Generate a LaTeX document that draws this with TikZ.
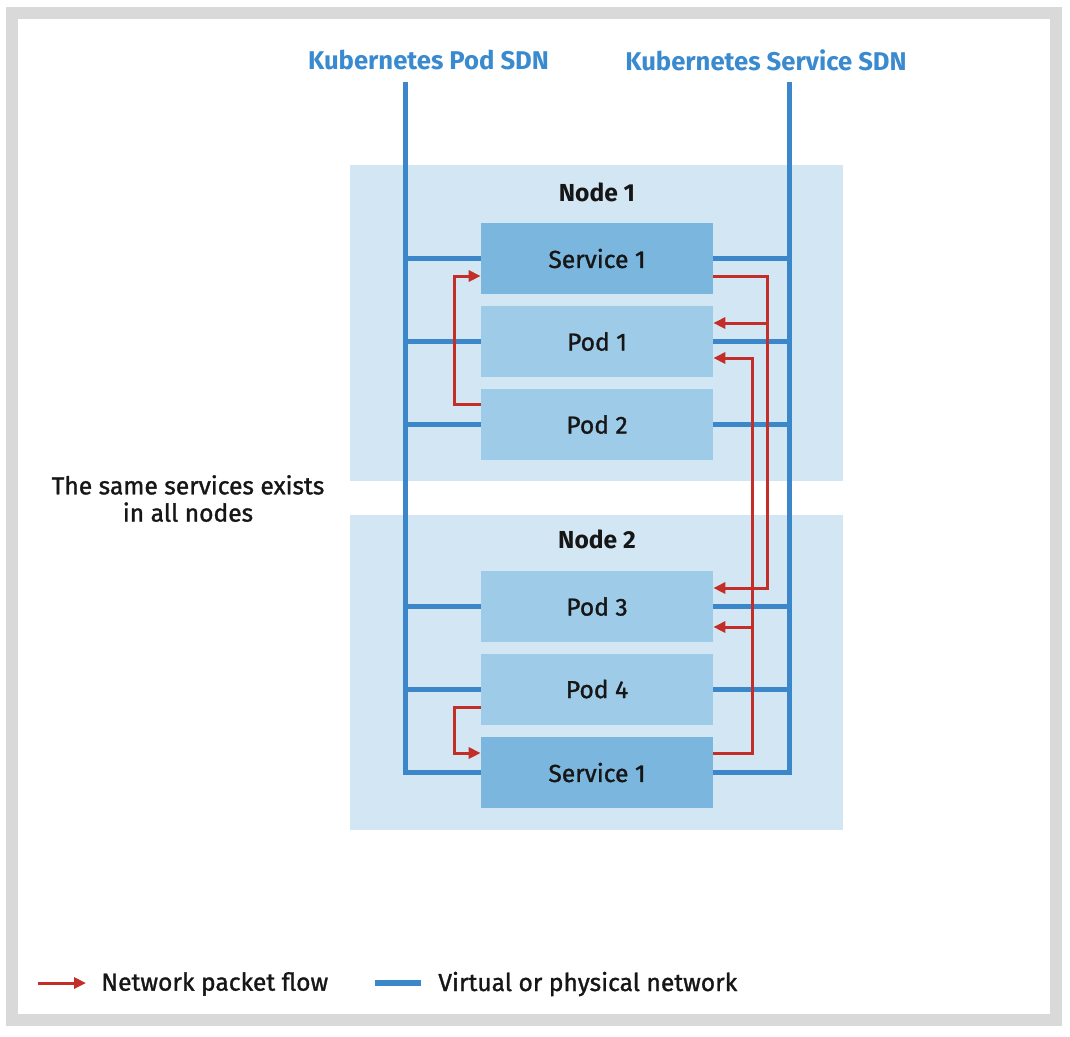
\documentclass[tikz,border=0pt]{standalone}
\usepackage{fontspec}
\setmainfont{Fira Sans}
\newfontfamily\medio[FakeBold=1.2]{Fira Sans}
\usetikzlibrary{arrows.meta}
\definecolor{sfondo}{HTML}{D3E6F3}
\definecolor{podblu}{HTML}{9DCBE8}
\definecolor{svcblu}{HTML}{7AB6DE}
\definecolor{reteblu}{HTML}{3B87C9}
\definecolor{titblu}{HTML}{3A8AD0}
\definecolor{rosso}{HTML}{C32E29}
\definecolor{cornice}{HTML}{D9D9D9}
\definecolor{testo}{HTML}{161616}
\tikzset{
  testo/.style={font=\fontsize{14}{17}\medio, text=testo},
  titolo/.style={font=\fontsize{14.6}{17}\selectfont\bfseries, text=titblu},
  nodo/.style={fill=sfondo, minimum width=9.86cm, minimum height=6.32cm, inner sep=0pt},
  pod/.style={testo, fill=podblu, minimum width=4.64cm, minimum height=1.42cm, inner sep=0pt},
  servizio/.style={pod, fill=svcblu},
  rete/.style={draw=reteblu, line width=0.1cm},
  flusso/.style={draw=rosso, line width=0.06cm, -{Triangle[length=0.24cm, width=0.22cm]}}
}
\begin{document}
\begin{tikzpicture}[x=0.02cm, y=-0.02cm]
  \useasboundingbox (0,0) rectangle (1070,1036);
  \fill[white] (0,0) rectangle (1070,1036);
  \draw[cornice, line width=0.24cm] (12,13) rectangle (1056,1020);

  % Disegno dei nodi
  \node[nodo] (n1) at (596.5,323) {};
  \node[nodo] (n2) at (596.5,672.5) {};
  \node[testo, font=\fontsize{14}{17}\selectfont\bfseries] (n1lab) at (597,192) {Node 1};
  \node[testo, font=\fontsize{14}{17}\selectfont\bfseries] (n2lab) at (597,539) {Node 2};

  % Titoli delle reti
  \node[titolo] (podsdn) at (428.5,60) {Kubernetes Pod SDN};
  \node[titolo] (svcsdn) at (766,60) {Kubernetes Service SDN};
  \coordinate (podtop) at (405,82);
  \coordinate (svctop) at (789,82);

  % Disegno dei servizi e dei pod
  \node[servizio] (s1) at (597,258.5) {Service 1};
  \node[pod] (p1) at (597,341.5) {Pod 1};
  \node[pod] (p2) at (597,424.5) {Pod 2};
  \node[pod] (p3) at (597,606.5) {Pod 3};
  \node[pod] (p4) at (597,689) {Pod 4};
  \node[servizio] (s2) at (597,772.5) {Service 1};

  % Disegno delle reti
  \draw[rete] (podtop) |- (s2.west);
  \draw[rete] (svctop) |- (s2.east);
  \foreach \b in {s1,p1,p2,p3,p4} {
    \draw[rete] (\b.west) -- (\b.west -| podtop);
    \draw[rete] (\b.east) -- (\b.east -| svctop);
  }

  % Disegno dei flussi
  \draw[flusso] (p2.west |- 0,404) -| (454,276) -- (s1.west |- 0,276);
  \draw[flusso] (s1.east |- 0,276) -| (767,588) -- (p3.east |- 0,588);
  \draw[flusso] (767,323) -- (p1.east |- 0,323);
  \draw[flusso] (s2.east |- 0,753) -| (752,358) -- (p1.east |- 0,358);
  \draw[flusso] (752,627) -- (p3.east |- 0,627);
  \draw[flusso] (p4.west |- 0,707) -| (454,753) -- (s2.west |- 0,753);

  % Nota a sinistra
  \node[testo, align=center] (nota) at (188,498.5) {The same services exists\\[-1.5pt]in all nodes};

  % Legenda
  \coordinate (lf1) at (38,983);
  \coordinate (lf2) at (86,983);
  \coordinate (lr1) at (375,983);
  \coordinate (lr2) at (421,983);
  \draw[flusso] (lf1) -- (lf2);
  \draw[rete, line width=0.12cm] (lr1) -- (lr2);
  \node[testo, anchor=west, inner sep=0pt] (lflusso) at (101,984) {Network packet flow};
  \node[testo, anchor=west, inner sep=0pt] (lrete) at (438,984) {Virtual or physical network};
\end{tikzpicture}
\end{document}
